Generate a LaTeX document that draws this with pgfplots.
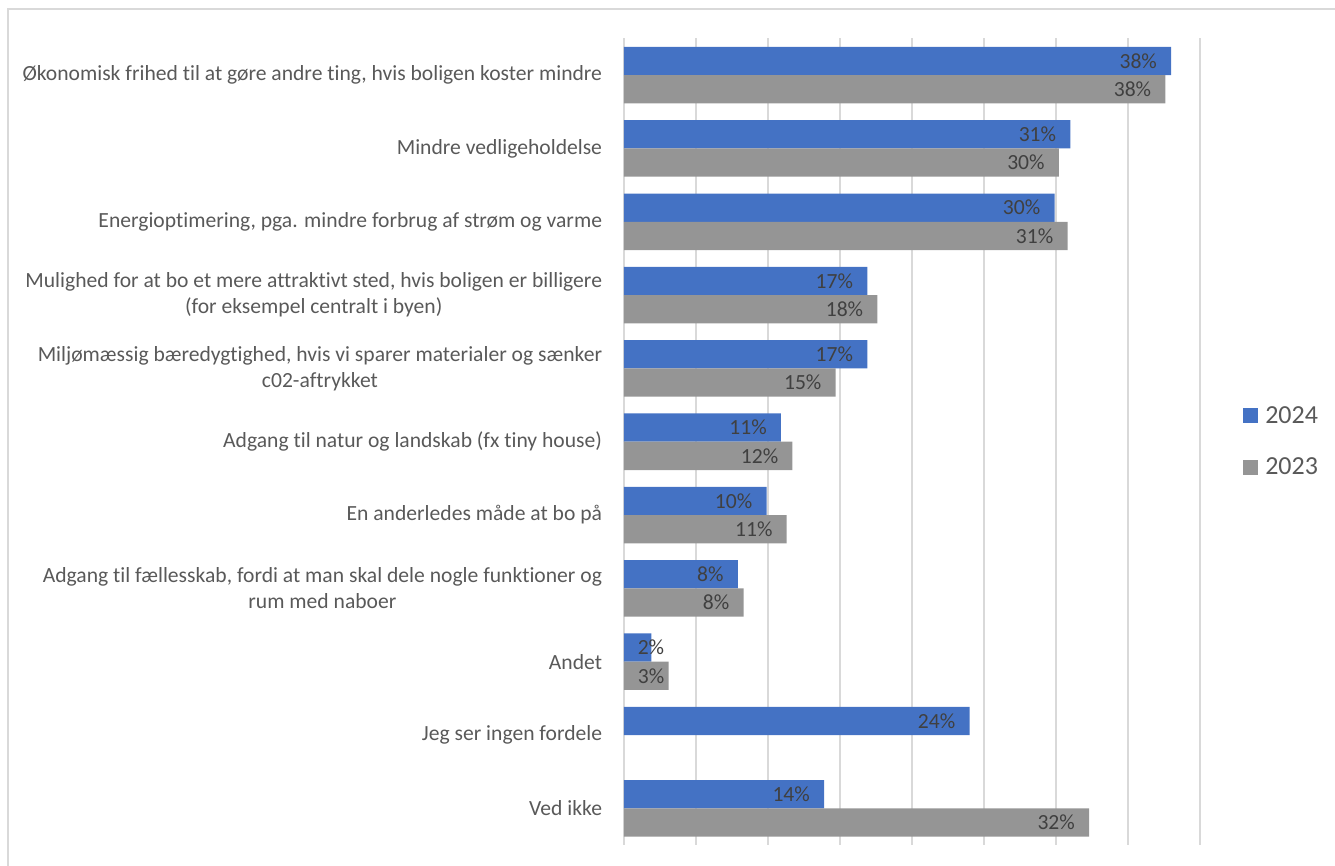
\documentclass[border=0pt]{standalone}
\usepackage{pgfplots}
\pgfplotsset{compat=1.18}
\usepackage{pgfplotstable}
\usepackage{fontspec}
\setmainfont{Carlito}[Ligatures=NoCommon]
\definecolor{c24}{HTML}{4472C4}
\definecolor{c23}{HTML}{959595}
\definecolor{gridc}{HTML}{D9D9D9}
\definecolor{labc}{HTML}{595959}
\definecolor{datc}{HTML}{404040}

\pgfplotstableread{
y v24 s24 v23 s23
0 38.0 -10.5 37.6 -10.5
1 31.0 -10.5 30.2 -10.5
2 29.9 -10.5 30.8 -10.5
3 16.9 -10.5 17.6 -10.5
4 16.9 -10.5 14.7 -10.5
5 10.9 -10.5 11.7 -10.5
6 9.9 -10.5 11.3 -10.5
7 7.9 -10.5 8.3 -10.5
8 1.9 9.8 3.1 -3.0
9 24.0 -10.5 nan -10.5
10 13.9 -10.5 32.3 -10.5
}\datatable

\begin{document}
\begin{tikzpicture}
\begin{axis}[
  scale only axis, width=432pt, height=604.9pt,
  /pgf/number format/assume math mode=true,
  xbar, bar width=21.2pt,
  xmin=0, xmax=40, ymin=-0.5, ymax=10.5, y dir=reverse,
  xtick={0,5,...,40}, xticklabels={},
  xmajorgrids, grid style={gridc, line width=1.5pt},
  ytick={0,...,10},
  yticklabels={
    {Økonomisk frihed til at gøre andre ting, hvis boligen koster mindre},
    {Mindre vedligeholdelse},
    {Energioptimering, pga. mindre forbrug af strøm og varme},
    {Mulighed for at bo et mere attraktivt sted, hvis boligen er billigere\\(for eksempel centralt i byen)},
    {Miljømæssig bæredygtighed, hvis vi sparer materialer og sænker\\c02-aftrykket},
    {Adgang til natur og landskab (fx tiny house)},
    {En anderledes måde at bo på},
    {Adgang til fællesskab, fordi at man skal dele nogle funktioner og\\rum med naboer},
    {Andet},
    {Jeg ser ingen fordele},
    {Ved ikke}},
  yticklabel style={align=center, font=\fontsize{16.2}{19.5}\selectfont, text=labc, inner sep=0pt},
  yticklabel shift=12pt,
  axis line style={draw=none},
  tick style={draw=none},
  point meta=x,
  nodes near coords={\pgfmathprintnumber[fixed,precision=0]{\pgfplotspointmeta}\%},
  nodes near coords style={anchor=east, font=\fontsize{16.2}{18}\selectfont, text=datc, inner sep=0pt, xshift=\labshift pt},
  legend style={draw=none, fill=none, at={(1.0747,0.5)}, anchor=west, inner sep=0pt,
    font=\fontsize{19.5}{23}\selectfont, text=labc, row sep=24.5pt, column sep=5.25pt,
    nodes={inner sep=0pt}},
  legend cell align=left,
]
\addplot[fill=c24, draw=none, bar shift=10.6pt, visualization depends on={\thisrow{s24}\as\labshift},
  legend image code/.code={\fill[c24] (0pt,-5.625pt) rectangle (11.25pt,5.625pt);}]
  table[x=v24, y=y] {\datatable};
\addlegendentry{2024}
\addplot[fill=c23, draw=none, bar shift=-10.6pt, visualization depends on={\thisrow{s23}\as\labshift},
  legend image code/.code={\fill[c23] (0pt,-5.625pt) rectangle (11.25pt,5.625pt);}]
  table[x=v23, y=y] {\datatable};
\addlegendentry{2023}
\end{axis}
\pgfresetboundingbox
\path[use as bounding box] (-468pt,-15.75pt) rectangle (533.25pt,633.75pt);
\draw[gridc, line width=1.5pt] (-462pt,-20pt) -- (-462pt,627pt) -- (540pt,627pt);
\end{tikzpicture}
\end{document}
